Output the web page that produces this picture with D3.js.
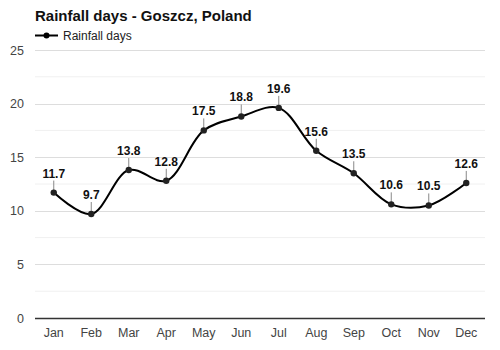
<!DOCTYPE html>
<html>
<head>
<meta charset="utf-8">
<script src="https://cdn.jsdelivr.net/npm/d3@7"></script>
<style>
  html, body { margin: 0; padding: 0; background: #fff; }
  svg { display: block; font-family: "Liberation Sans", Arial, sans-serif; }
</style>
</head>
<body>
<svg id="chart" width="500" height="350"></svg>
<script>
const months = ["Jan","Feb","Mar","Apr","May","Jun","Jul","Aug","Sep","Oct","Nov","Dec"];
const rainfallDays = [11.7, 9.7, 13.8, 12.8, 17.5, 18.8, 19.6, 15.6, 13.5, 10.6, 10.5, 12.6];
const yTicks = [0, 5, 10, 15, 20, 25];
const yMinorTicks = [2.5, 7.5, 12.5, 17.5, 22.5];
const seriesName = "Rainfall days";
const titleText = "Rainfall days - Goszcz, Poland";

const svg = d3.select("#chart");
const margin = { left: 35, right: 15, top: 50, bottom: 32 };
const W = 500, H = 350;

const x = d3.scaleBand().domain(months).range([margin.left, W - margin.right]);
const y = d3.scaleLinear().domain([0, 25]).range([H - margin.bottom, margin.top]);

// gridlines
svg.append("g").selectAll("line.minor").data(yMinorTicks).join("line")
  .attr("x1", margin.left).attr("x2", W - margin.right)
  .attr("y1", d => y(d)).attr("y2", d => y(d))
  .attr("stroke", "#f0f0f0").attr("stroke-width", 1);
svg.append("g").selectAll("line.major").data(yTicks.filter(d => d > 0)).join("line")
  .attr("x1", margin.left).attr("x2", W - margin.right)
  .attr("y1", d => Math.round(y(d)) + 0.5).attr("y2", d => Math.round(y(d)) + 0.5)
  .attr("stroke", "#dddddd").attr("stroke-width", 1);

// y labels
svg.append("g").selectAll("text").data(yTicks).join("text")
  .attr("x", 24).attr("y", d => y(d) + 4.5)
  .attr("text-anchor", "end")
  .attr("font-size", 12.5).attr("fill", "#444")
  .text(d => d);

// baseline
svg.append("line")
  .attr("x1", margin.left).attr("x2", W - margin.right)
  .attr("y1", Math.round(y(0)) + 0.5).attr("y2", Math.round(y(0)) + 0.5)
  .attr("stroke", "#333").attr("stroke-width", 1.5);

// x labels
svg.append("g").selectAll("text").data(months).join("text")
  .attr("x", d => x(d) + x.bandwidth() / 2).attr("y", y(0) + 19)
  .attr("text-anchor", "middle")
  .attr("font-size", 12.5).attr("fill", "#444")
  .text(d => d);

const pts = months.map((m, i) => ({ m, v: rainfallDays[i] }));
const cx = d => x(d.m) + x.bandwidth() / 2;

// line
const line = d3.line().x(cx).y(d => y(d.v)).curve(d3.curveCatmullRom.alpha(0.5));
svg.append("path").datum(pts)
  .attr("d", line).attr("fill", "none")
  .attr("stroke", "#000").attr("stroke-width", 2);

// leaders
svg.append("g").selectAll("line").data(pts).join("line")
  .attr("x1", cx).attr("x2", cx)
  .attr("y1", d => y(d.v) - 12).attr("y2", d => y(d.v))
  .attr("stroke", "#888").attr("stroke-width", 1);

// points
svg.append("g").selectAll("circle").data(pts).join("circle")
  .attr("cx", cx).attr("cy", d => y(d.v)).attr("r", 3.2)
  .attr("fill", "#222");

// value labels
svg.append("g").selectAll("text").data(pts).join("text")
  .attr("x", cx).attr("y", d => y(d.v) - 15)
  .attr("text-anchor", "middle")
  .attr("font-size", 12).attr("font-weight", "bold").attr("fill", "#111")
  .text(d => d.v.toFixed(1));

// title
svg.append("text")
  .attr("x", margin.left).attr("y", 21)
  .attr("font-size", 15).attr("font-weight", "bold").attr("fill", "#111")
  .text(titleText);

// legend
const lg = svg.append("g");
lg.append("line").attr("x1", 35).attr("x2", 58).attr("y1", 35.5).attr("y2", 35.5)
  .attr("stroke", "#000").attr("stroke-width", 2);
lg.append("circle").attr("cx", 46.5).attr("cy", 35.5).attr("r", 3).attr("fill", "#000");
lg.append("text").attr("x", 63).attr("y", 40)
  .attr("font-size", 12).attr("fill", "#222").text(seriesName);
</script>
</body>
</html>
